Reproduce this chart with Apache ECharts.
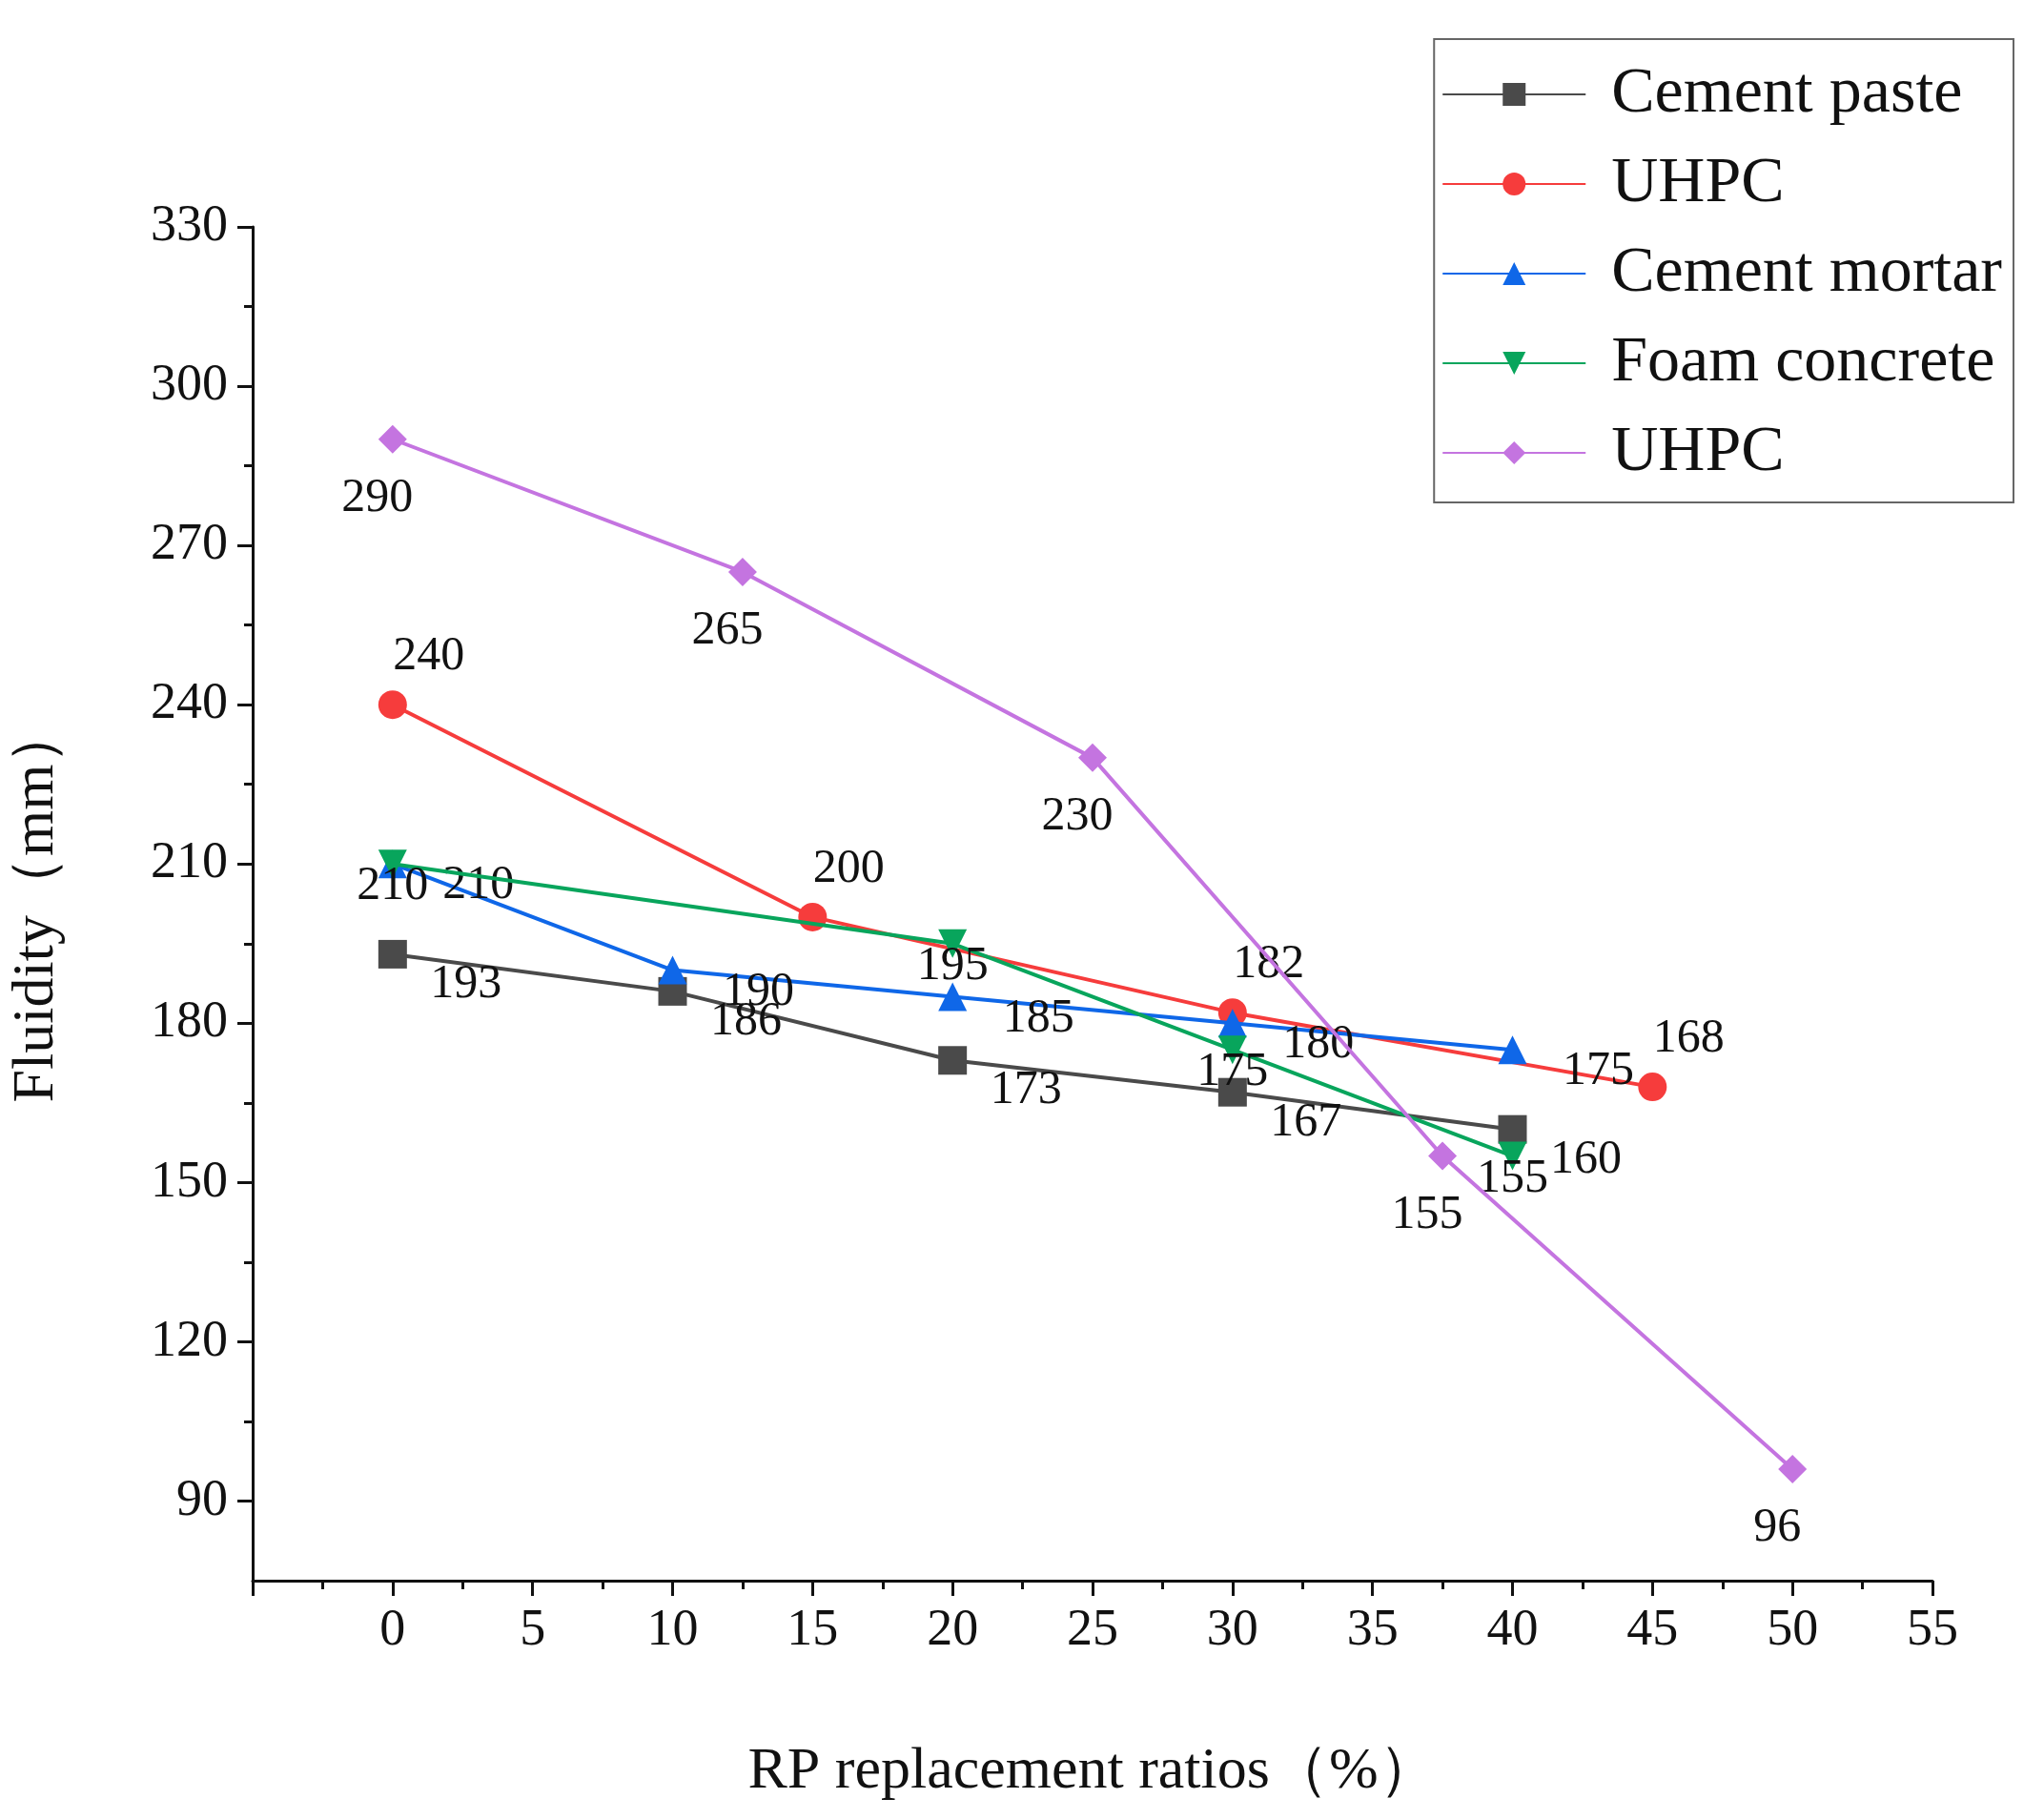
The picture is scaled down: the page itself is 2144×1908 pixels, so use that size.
<!DOCTYPE html>
<html><head><meta charset="utf-8">
<script src="https://cdn.jsdelivr.net/npm/echarts@6/dist/echarts.min.js"></script>
<style>html,body{margin:0;padding:0;background:#fff}#c{width:2144px;height:1908px}</style>
</head><body><div id="c"></div>
<script>
const seriesNames = ['Cement paste','UHPC','Cement mortar','Foam concrete','UHPC '];
const xPaste = [0,10,20,30,40];
const yPaste = [193,186,173,167,160];
const xUhpc1 = [0,15,30,45];
const yUhpc1 = [240,200,182,168];
const xMortar = [0,10,20,30,40];
const yMortar = [210,190,185,180,175];
const xFoam = [0,20,30,40];
const yFoam = [210,195,175,155];
const xUhpc2 = [0,12.5,25,37.5,50];
const yUhpc2 = [290,265,230,155,96];
const yTicks = [90,120,150,180,210,240,270,300,330];
const yMinorTicks = [105,135,165,195,225,255,285,315];

const F = 'Liberation Serif';
const colors = ['#4a4a4a','#f63c3c','#0f67e8','#08a55c','#c474e0'];
const symbols = ['rect','circle','triangle','triangle','diamond'];
const offsets = [[77,32],[38,-50],[90,23],[0,24],[-16,62]];
const xs = [xPaste,xUhpc1,xMortar,xFoam,xUhpc2];
const ys = [yPaste,yUhpc1,yMortar,yFoam,yUhpc2];

const series = seriesNames.map((n,i)=>({
  name:n, type:'line', data: xs[i].map((x,j)=>[x,ys[i][j]]),
  symbol:symbols[i], symbolSize:30, symbolRotate: i===3?180:0,
  lineStyle:{color:colors[i],width:4}, itemStyle:{color:colors[i]},
  label:{show:true,position:'inside',offset:offsets[i],color:'#111',fontFamily:F,fontSize:50,
    formatter:p=>p.value[1]},
  z: 2+i
}));
series.push({type:'line',yAxisIndex:1,data:[],silent:true});

const chart = echarts.init(document.getElementById('c'));
chart.setOption({
  animation:false,
  grid:{left:264,right:117,top:238,bottom:250},
  legend:{
    data:seriesNames,
    formatter:n=>n.trim(),
    right:32,top:41,orient:'vertical',padding:[24,12,18,8],
    borderColor:'#666',borderWidth:2,itemGap:26,itemWidth:150,itemHeight:30,
    textStyle:{fontFamily:F,fontSize:68,color:'#111',padding:[0,0,0,22]}
  },
  xAxis:{type:'value',min:-5,max:55,interval:5,
    name:'RP replacement ratios（%）',nameLocation:'middle',nameGap:170,
    nameTextStyle:{fontFamily:F,fontSize:62,color:'#111'},
    axisLine:{onZero:false,lineStyle:{color:'#111',width:3}},
    axisTick:{length:16,lineStyle:{color:'#111',width:3}},
    minorTick:{show:true,splitNumber:2,length:9,lineStyle:{color:'#111',width:3}},
    axisLabel:{fontFamily:F,fontSize:54,color:'#111',margin:26,formatter:v=>v<0?'':v},
    splitLine:{show:false}},
  yAxis:[{type:'value',min:75,max:330,
    name:'Fluidity（mm）',nameLocation:'middle',nameGap:195,
    nameTextStyle:{fontFamily:F,fontSize:62,color:'#111'},
    axisLine:{show:true,onZero:false,lineStyle:{color:'#111',width:3}},
    axisTick:{show:true,length:16,customValues:yTicks,lineStyle:{color:'#111',width:3}},
    axisLabel:{fontFamily:F,fontSize:54,color:'#111',margin:26,customValues:yTicks},
    splitLine:{show:false}},
    {type:'value',min:75,max:330,position:'left',
    axisLine:{show:false,onZero:false},
    axisTick:{show:true,length:9,customValues:yMinorTicks,lineStyle:{color:'#111',width:3}},
    axisLabel:{show:false},splitLine:{show:false}}],
  series
});
</script></body></html>
